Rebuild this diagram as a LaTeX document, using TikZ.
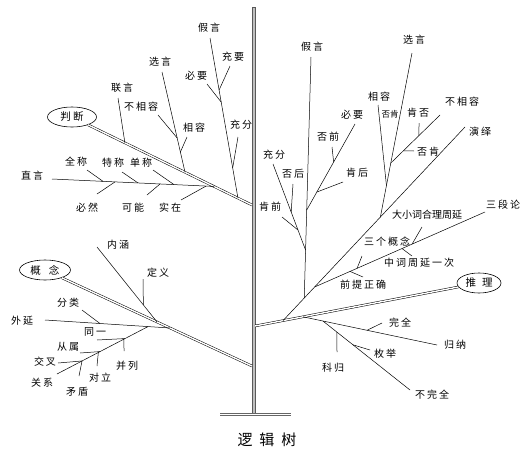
\documentclass[tikz,border=0pt]{standalone}
\usepackage{fontspec}
\newfontfamily\cjk[LetterSpace=20]{Noto Sans CJK SC}
\newfontfamily\cjkt{Noto Sans CJK SC}
\usetikzlibrary{shapes.geometric,calc}
\begin{document}
\begin{tikzpicture}[x=1pt,y=-1pt,
 lbl/.style={font=\cjk\fontsize{10}{12}\selectfont, inner sep=0pt},
 lblt/.style={font=\cjkt\fontsize{10}{12}\selectfont, inner sep=0pt},
 sml/.style={font=\cjkt\fontsize{8.5}{10}\selectfont, inner sep=0pt},
 br/.style={line width=0.5pt},
 dbl/.style={double, double distance=1.4pt, line width=0.5pt},
 oval/.style={ellipse, draw, line width=0.6pt, inner sep=0pt, font=\cjk\fontsize{10.5}{12}\selectfont}]
\useasboundingbox (0,0) rectangle (530,450);
% trunk and base
\draw[fill=gray!50, draw=black!65, line width=0.4pt] (252,7) rectangle (255,413);
\coordinate (bL) at (220,414.5);
\coordinate (bR) at (291,414.5);
\draw[double=white, draw=black!60, double distance=1.3pt, line width=0.5pt] (bL) -- (bR);
\node[font=\cjkt\fontsize{15}{18}\selectfont, inner sep=0pt] (tt) at (267,440) {逻\hspace{7pt}辑\hspace{7pt}树};
\coordinate (trJ) at (252,205);
\coordinate (trG) at (252,366);
\coordinate (trT) at (255,326);

% ---------- 判断 ----------
\node[oval, minimum width=49pt, minimum height=20pt] (pd) at (72,117) {判断};
\draw[dbl] (pd) -- (trJ);
% 联言
\node[lbl] (lyL) at (122,88) {联言};
\coordinate (ly1) at (118,98);
\coordinate (ly2) at ($(pd)!0.294!(trJ)$);
\draw[br] (ly1) -- (ly2);
% 选言
\node[lbl] (xyL) at (160,62) {选言};
\coordinate (xy1) at (162,72);
\coordinate (xy2) at ($(pd)!0.628!(trJ)$);
\draw[br] (xy1) -- (xy2);
\node[lbl] (bxrL) at (141,107) {不相容};
\coordinate (bxr1) at (158,115);
\coordinate (bxr2) at ($(xy1)!0.658!(xy2)$);
\draw[br] (bxr1) -- (bxr2);
\node[lbl] (xrL) at (194,128) {相容};
\coordinate (xr1) at (187,137);
\coordinate (xr2) at ($(xy1)!0.798!(xy2)$);
\draw[br] (xr1) -- (xr2);
% 假言
\node[lbl] (jyL) at (209,28) {假言};
\coordinate (jy1) at (210,38);
\coordinate (jy2) at ($(pd)!0.922!(trJ)$);
\draw[br] (jy1) -- (jy2);
\node[lbl] (cyL) at (233,57) {充要};
\coordinate (cy1) at (230,66);
\coordinate (cy2) at ($(jy1)!0.325!(jy2)$);
\draw[br] (cy1) -- (cy2);
\node[lbl] (byL) at (196,76) {必要};
\coordinate (by1) at (207,84);
\coordinate (by2) at ($(jy1)!0.4!(jy2)$);
\draw[br] (by1) -- (by2);
\node[lbl] (cfL) at (241,125) {充分};
\coordinate (cf1) at (238,137);
\coordinate (cf2) at ($(jy1)!0.811!(jy2)$);
\draw[br] (cf1) -- (cf2);
% 直言
\node[lbl] (zyL) at (32,176) {直言};
\coordinate (zy1) at (52,179);
\coordinate (zy2) at ($(pd)!0.789!(trJ)$);
\draw[br] (zy1) -- (zy2);
\node[lbl] (qcL) at (76,162) {全称};
\coordinate (qc1) at (87,170);
\coordinate (qc2) at ($(zy1)!0.315!(zy2)$);
\draw[br] (qc1) -- (qc2);
\node[lbl] (tcL) at (113,163) {特称};
\coordinate (tc1) at (122,172);
\coordinate (tc2) at ($(zy1)!0.531!(zy2)$);
\draw[br] (tc1) -- (tc2);
\node[lbl] (dcL) at (141,163) {单称};
\coordinate (dc1) at (153,170);
\coordinate (dc2) at ($(zy1)!0.753!(zy2)$);
\draw[br] (dc1) -- (dc2);
\node[lbl] (brL) at (87,208) {必然};
\coordinate (br1) at (97,194);
\coordinate (br2) at ($(zy1)!0.389!(zy2)$);
\draw[br] (br1) -- (br2);
\node[lbl] (knL) at (133,208) {可能};
\coordinate (kn1) at (147,195);
\coordinate (kn2) at ($(zy1)!0.667!(zy2)$);
\draw[br] (kn1) -- (kn2);
\node[lbl] (szL) at (170,208) {实在};
\coordinate (sz1) at (181,200);
\coordinate (sz2) at ($(zy1)!0.951!(zy2)$);
\draw[br] (sz1) -- (sz2);

% ---------- 概念 ----------
\node[oval, minimum width=51pt, minimum height=20pt] (gn) at (45,270) {概\hspace{8pt}念};
\draw[dbl] (gn) -- (trG);
\node[lbl] (nhL) at (118,245) {内涵};
\coordinate (nh1) at (97,247);
\coordinate (nh2) at ($(gn)!0.541!(trG)$);
\draw[br] (nh1) -- (nh2);
\node[lbl] (dyL) at (158,273) {定义};
\coordinate (dy1) at (143,279);
\coordinate (dy2) at ($(nh1)!0.773!(nh2)$);
\draw[br] (dy1) -- (dy2);
\node[lbl] (wyL) at (22,321) {外延};
\coordinate (wy1) at (45,320);
\coordinate (wy2) at ($(gn)!0.604!(trG)$);
\draw[br] (wy1) -- (wy2);
\node[lbl] (flL) at (68,303) {分类};
\coordinate (fl1) at (82,310);
\coordinate (fl2) at ($(wy1)!0.44!(wy2)$);
\draw[br] (fl1) -- (fl2);
\node[lbl] (gxL) at (42,383) {关系};
\coordinate (gx1) at (57,374);
\coordinate (gx2) at ($(wy1)!0.824!(wy2)$);
\draw[br] (gx1) -- (gx2);
\node[lbl] (tyL) at (95,332) {同一};
\coordinate (ty1) at (97,340);
\coordinate (ty2) at ($(gx1)!0.747!(gx2)$);
\draw[br] (ty1) -- (ty2);
\node[lbl] (csL) at (68,347) {从属};
\coordinate (cs1) at (80,353);
\coordinate (cs2) at ($(gx1)!0.473!(gx2)$);
\draw[br] (cs1) -- (cs2);
\node[lbl] (jcL) at (45,362) {交叉};
\coordinate (jc1) at (58,363);
\coordinate (jc2) at ($(gx1)!0.275!(gx2)$);
\draw[br] (jc1) -- (jc2);
\node[lbl] (blL) at (127,366) {并列};
\coordinate (bl1) at ($(gx1)!0.736!(gx2)$);
\coordinate (bl2) at (124,351);
\draw[br] (bl1) -- (bl2);
\node[lbl] (dlL) at (100,378) {对立};
\coordinate (dl1) at (97,366);
\coordinate (dl2) at ($(gx1)!0.454!(gx2)$);
\draw[br] (dl1) -- (dl2);
\node[lbl] (mdL) at (77,392) {矛盾};
\coordinate (md1) at (79,376);
\coordinate (md2) at ($(gx1)!0.275!(gx2)$);
\draw[br] (md1) -- (md2);

% ---------- 推理 ----------
\node[oval, minimum width=44pt, minimum height=20pt] (tl) at (479,283) {推\hspace{6pt}理};
\draw[dbl] (trT) -- (tl);
% 演绎
\node[lbl] (yyL) at (480,132) {演绎};
\coordinate (yy1) at ($(trT)!0.125!(tl)$);
\coordinate (yy2) at (465,127);
\draw[br] (yy1) -- (yy2);
% 三段论
\node[lbl] (sdL) at (503,205) {三段论};
\coordinate (sd0) at ($(yy1)!0.1736!(yy2)$);
\coordinate (sd1) at (485,212);
\draw[br] (sd0) -- (sd1);
\node[lblt] (dxL) at (427,215) {大小词合理周延};
\coordinate (dx1) at (422,227);
\coordinate (dx2) at ($(sd0)!0.572!(sd1)$);
\draw[br] (dx1) -- (dx2);
\node[lbl] (sgL) at (387,242) {三个概念};
\coordinate (sg1) at (362,256);
\coordinate (sg2) at ($(sd0)!0.249!(sd1)$);
\draw[br] (sg1) -- (sg2);
\node[lbl] (zcL) at (419,263) {中词周延一次};
\coordinate (zc1) at ($(sd0)!0.513!(sd1)$);
\coordinate (zc2) at (412,256);
\draw[br] (zc1) -- (zc2);
\node[lbl] (qtL) at (363,285) {前提正确};
\coordinate (qt1) at ($(sd0)!0.208!(sd1)$);
\coordinate (qt2) at (363,277);
\draw[br] (qt1) -- (qt2);
% 选言 (right)
\node[lbl] (xyR) at (414,40) {选言};
\coordinate (xq1) at (412,53);
\coordinate (xq2) at ($(yy1)!0.535!(yy2)$);
\draw[br] (xq1) -- (xq2);
\node[lbl] (xrR) at (379,97) {相容};
\coordinate (xs1) at (378,105);
\coordinate (xs2) at ($(xq1)!0.808!(xq2)$);
\draw[br] (xs1) -- (xs2);
\node[sml] (fkA) at (390,114) {否肯};
\node[lbl] (bxR) at (462,102) {不相容};
\coordinate (bx1) at (440,115);
\coordinate (bx2) at ($(xq1)!0.671!(xq2)$);
\draw[br] (bx1) -- (bx2);
\node[lbl] (kfL) at (418,113) {肯否};
\coordinate (kf1) at (419,123);
\coordinate (kf2) at ($(bx1)!0.427!(bx2)$);
\draw[br] (kf1) -- (kf2);
\node[lbl] (fkB) at (428,152) {否肯};
\coordinate (fk1) at ($(bx1)!0.744!(bx2)$);
\coordinate (fk2) at (414,151);
\draw[br] (fk1) -- (fk2);
% 假言 (right)
\node[lbl] (jyR) at (312,47) {假言};
\coordinate (jr1) at (311,57);
\coordinate (jr2) at ($(yy1)!0.1167!(yy2)$);
\draw[br] (jr1) -- (jr2);
\node[lbl] (cfR) at (274,155) {充分};
\coordinate (cg1) at (273,164);
\coordinate (cg2) at ($(jr1)!0.801!(jr2)$);
\draw[br] (cg1) -- (cg2);
\node[lbl] (fhL) at (293,174) {否后};
\coordinate (fh1) at (293,184);
\coordinate (fh2) at ($(cg1)!0.558!(cg2)$);
\draw[br] (fh1) -- (fh2);
\node[lbl] (kqL) at (270,207) {肯前};
\coordinate (kq1) at (282,217);
\coordinate (kq2) at ($(cg1)!0.767!(cg2)$);
\draw[br] (kq1) -- (kq2);
\node[lbl] (byR) at (352,115) {必要};
\coordinate (bz1) at (355,124);
\coordinate (bz2) at ($(jr1)!0.635!(jr2)$);
\draw[br] (bz1) -- (bz2);
\node[lbl] (fqL) at (328,137) {否前};
\coordinate (fq1) at (332,147);
\coordinate (fq2) at ($(bz1)!0.442!(bz2)$);
\draw[br] (fq1) -- (fq2);
\node[lbl] (khL) at (357,173) {肯后};
\coordinate (kh1) at (343,182);
\coordinate (kh2) at ($(bz1)!0.791!(bz2)$);
\draw[br] (kh1) -- (kh2);
% 归纳
\node[lbl] (gnaL) at (455,345) {归纳};
\coordinate (gu1) at ($(trT)!0.214!(tl)$);
\coordinate (gu2) at (437,345);
\draw[br] (gu1) -- (gu2);
\node[lbl] (wqL) at (400,323) {完全};
\coordinate (wq1) at (382,323);
\coordinate (wq2) at ($(gu1)!0.478!(gu2)$);
\draw[br] (wq1) -- (wq2);
\node[lbl] (bwL) at (432,395) {不完全};
\coordinate (bw1) at ($(gu1)!0.149!(gu2)$);
\coordinate (bw2) at (410,390);
\draw[br] (bw1) -- (bw2);
\node[lbl] (mjL) at (385,354) {枚举};
\coordinate (mj1) at (370,350);
\coordinate (mj2) at ($(bw1)!0.345!(bw2)$);
\draw[br] (mj1) -- (mj2);
\node[lbl] (kgL) at (333,368) {科归};
\coordinate (kg1) at ($(bw1)!0.161!(bw2)$);
\coordinate (kg2) at (337,352);
\draw[br] (kg1) -- (kg2);
\end{tikzpicture}
\end{document}
